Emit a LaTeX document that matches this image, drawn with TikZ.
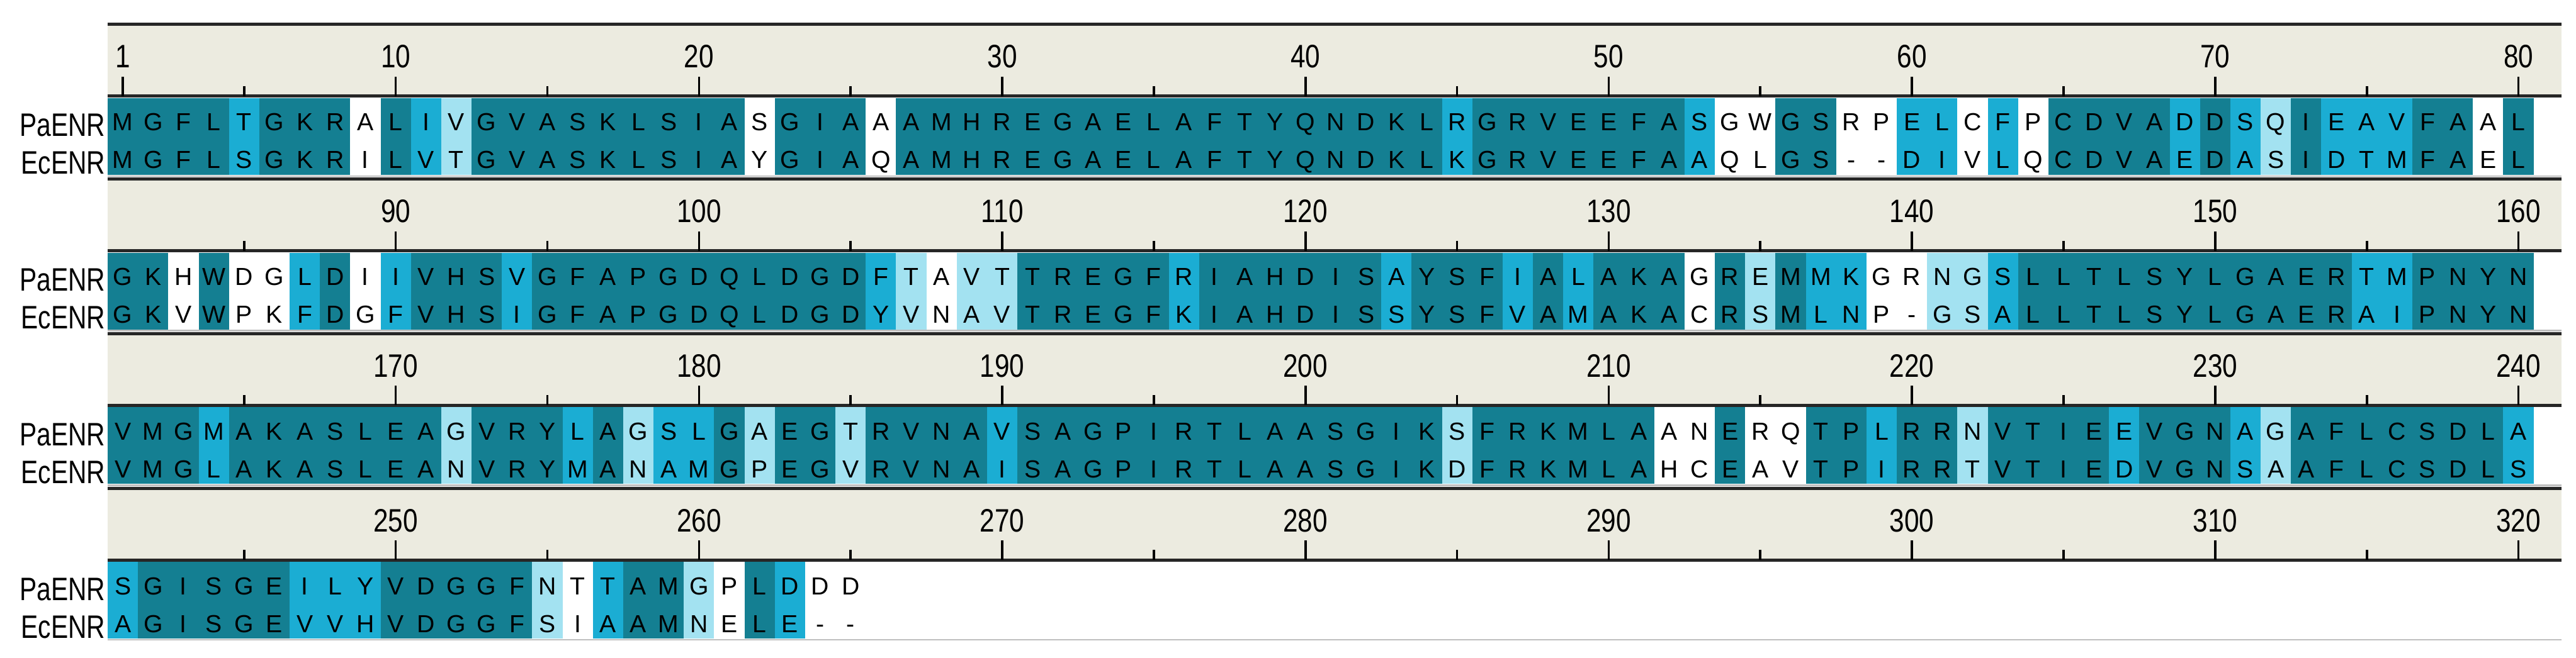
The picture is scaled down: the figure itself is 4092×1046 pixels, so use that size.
\documentclass[tikz,border=0pt]{standalone}
\usepackage{fontspec}
\setmainfont{Liberation Sans}
\definecolor{cold}{HTML}{147F92}
\definecolor{colm}{HTML}{1BADD3}
\definecolor{colp}{HTML}{A3E2F1}
\definecolor{colw}{HTML}{FFFFFF}
\definecolor{beige}{HTML}{ECEBE0}
\newcommand\alnblock[2]{%
  \pgfmathsetmacro\yo{39+245.7*(#1-1)}
  \fill[beige] (171,\yo) rectangle (4069,\yo+114);
  \draw[rline] (171,\yo) -- (4069,\yo);
  \draw[rline] (171,\yo+114) -- (4069,\yo+114);
  \foreach \k in {1,...,80}{
    \pgfmathtruncatemacro\n{(#1-1)*80+\k}
    \pgfmathsetmacro\xc{171+(\k-0.5)*48.17}
    \pgfmathtruncatemacro\islong{or(\n==1,mod(\n,10)==0)}
    \pgfmathtruncatemacro\isshort{mod(\n,5)==0}
    \ifnum\islong=1
      \draw[tick] (\xc,\yo+83) -- (\xc,\yo+114);
      \node[num] (n\n) at (\xc,\yo+69) {\scalebox{0.82}[1]{\n}};
    \else\ifnum\isshort=1
      \draw[tick] (\xc,\yo+98) -- (\xc,\yo+114);
    \fi\fi
  }
  \foreach \pa/\ec/\cl [count=\k] in {#2}{
    \pgfmathsetmacro\xl{171+(\k-1)*48.17}
    \fill[fill=col\cl] (\xl,\yo+117) rectangle (\xl+48.4,\yo+239);
    \node[res] (p#1-\k) at (\xl+24.08,\yo+169) {\pa};
    \node[res] (e#1-\k) at (\xl+24.08,\yo+229) {\ec};
  }
  \draw[line width=0.6pt,black!25] (171,\yo+241) -- (4069,\yo+241);
  \node[lab] (lp#1) at (168,\yo+178) {\scalebox{0.79}[1]{PaENR}};
  \node[lab] (le#1) at (168,\yo+238) {\scalebox{0.79}[1]{EcENR}};
}
\begin{document}
\begin{tikzpicture}[x=0.25pt,y=-0.25pt,
  res/.style={anchor=base,inner sep=0,font=\fontsize{9.8}{10}\selectfont},
  num/.style={anchor=base,inner sep=0,font=\fontsize{12.9}{13}\selectfont},
  lab/.style={anchor=base east,inner sep=0,font=\fontsize{12.9}{13}\selectfont},
  rline/.style={line width=1.25pt,black!85},
  tick/.style={line width=0.9pt,black}]
\useasboundingbox[fill=white] (0,0) rectangle (4092,1046);
\alnblock{1}{M/M/d,G/G/d,F/F/d,L/L/d,T/S/m,G/G/d,K/K/d,R/R/d,A/I/w,L/L/d,I/V/m,V/T/p,G/G/d,V/V/d,A/A/d,S/S/d,K/K/d,L/L/d,S/S/d,I/I/d,A/A/d,S/Y/w,G/G/d,I/I/d,A/A/d,A/Q/w,A/A/d,M/M/d,H/H/d,R/R/d,E/E/d,G/G/d,A/A/d,E/E/d,L/L/d,A/A/d,F/F/d,T/T/d,Y/Y/d,Q/Q/d,N/N/d,D/D/d,K/K/d,L/L/d,R/K/m,G/G/d,R/R/d,V/V/d,E/E/d,E/E/d,F/F/d,A/A/d,S/A/m,G/Q/w,W/L/w,G/G/d,S/S/d,R/-/w,P/-/w,E/D/m,L/I/m,C/V/w,F/L/m,P/Q/w,C/C/d,D/D/d,V/V/d,A/A/d,D/E/m,D/D/d,S/A/m,Q/S/p,I/I/d,E/D/m,A/T/m,V/M/m,F/F/d,A/A/d,A/E/w,L/L/d}
\alnblock{2}{G/G/d,K/K/d,H/V/w,W/W/d,D/P/w,G/K/w,L/F/m,D/D/d,I/G/w,I/F/m,V/V/d,H/H/d,S/S/d,V/I/m,G/G/d,F/F/d,A/A/d,P/P/d,G/G/d,D/D/d,Q/Q/d,L/L/d,D/D/d,G/G/d,D/D/d,F/Y/m,T/V/p,A/N/w,V/A/p,T/V/p,T/T/d,R/R/d,E/E/d,G/G/d,F/F/d,R/K/m,I/I/d,A/A/d,H/H/d,D/D/d,I/I/d,S/S/d,A/S/m,Y/Y/d,S/S/d,F/F/d,I/V/m,A/A/d,L/M/m,A/A/d,K/K/d,A/A/d,G/C/w,R/R/d,E/S/p,M/M/d,M/L/m,K/N/m,G/P/w,R/-/w,N/G/p,G/S/p,S/A/m,L/L/d,L/L/d,T/T/d,L/L/d,S/S/d,Y/Y/d,L/L/d,G/G/d,A/A/d,E/E/d,R/R/d,T/A/m,M/I/m,P/P/d,N/N/d,Y/Y/d,N/N/d}
\alnblock{3}{V/V/d,M/M/d,G/G/d,M/L/m,A/A/d,K/K/d,A/A/d,S/S/d,L/L/d,E/E/d,A/A/d,G/N/p,V/V/d,R/R/d,Y/Y/d,L/M/m,A/A/d,G/N/p,S/A/m,L/M/m,G/G/d,A/P/p,E/E/d,G/G/d,T/V/p,R/R/d,V/V/d,N/N/d,A/A/d,V/I/m,S/S/d,A/A/d,G/G/d,P/P/d,I/I/d,R/R/d,T/T/d,L/L/d,A/A/d,A/A/d,S/S/d,G/G/d,I/I/d,K/K/d,S/D/p,F/F/d,R/R/d,K/K/d,M/M/d,L/L/d,A/A/d,A/H/w,N/C/w,E/E/d,R/A/w,Q/V/w,T/T/d,P/P/d,L/I/m,R/R/d,R/R/d,N/T/p,V/V/d,T/T/d,I/I/d,E/E/d,E/D/m,V/V/d,G/G/d,N/N/d,A/S/m,G/A/p,A/A/d,F/F/d,L/L/d,C/C/d,S/S/d,D/D/d,L/L/d,A/S/m}
\alnblock{4}{S/A/m,G/G/d,I/I/d,S/S/d,G/G/d,E/E/d,I/V/m,L/V/m,Y/H/m,V/V/d,D/D/d,G/G/d,G/G/d,F/F/d,N/S/p,T/I/w,T/A/m,A/A/d,M/M/d,G/N/p,P/E/w,L/L/d,D/E/m,D/-/w,D/-/w}
\end{tikzpicture}
\end{document}
